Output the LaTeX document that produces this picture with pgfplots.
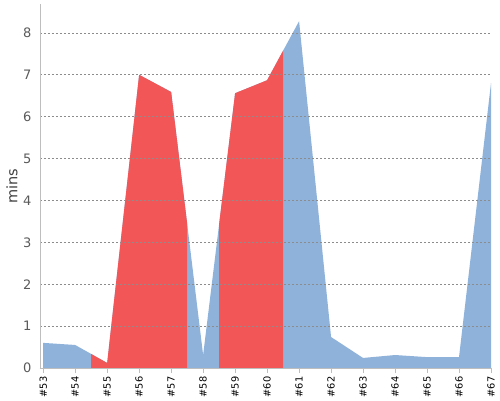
\documentclass[border=0pt]{standalone}
\usepackage{pgfplots}
\pgfplotsset{compat=1.18}
\usepackage{fontspec}
\setmainfont{DejaVu Sans}
\definecolor{areablue}{RGB}{143,178,218}
\definecolor{areared}{RGB}{242,86,86}
\definecolor{axgray}{RGB}{190,190,190}
\definecolor{gridgray}{RGB}{140,140,140}
\definecolor{ticktext}{RGB}{90,90,90}
\begin{document}
\begin{tikzpicture}
\path[use as bounding box] (-40pt,-32pt) rectangle (460pt,368pt);
\begin{axis}[
  at={(0pt,0pt)}, anchor=south west,
  scale only axis, width=451pt, height=364pt,
  xmin=52.9, xmax=67, ymin=0, ymax=8.69,
  axis x line*=bottom, axis y line*=left,
  axis line style={axgray, line width=0.8pt, -},
  xtick={53,...,67},
  xticklabels={\#53,\#54,\#55,\#56,\#57,\#58,\#59,\#60,\#61,\#62,\#63,\#64,\#65,\#66,\#67},
  x tick label style={rotate=90, anchor=east, font=\fontsize{9.8}{11}\selectfont, text=black},
  xtick style={axgray, line width=0.8pt},
  tick align=outside, major tick length=5pt,
  ytick={0,...,8},
  ytick style={draw=none},
  y tick label style={font=\fontsize{13}{14}\selectfont, text=ticktext},
  /pgf/number format/assume math mode=true,
  ymajorgrids, grid style={gridgray, line width=0.6pt, dash pattern=on 2pt off 2pt, dash phase=0pt},
  ylabel={mins},
  every axis y label/.style={at={(axis description cs:0,0.5)}, xshift=-28pt, rotate=90, anchor=center, font=\fontsize{14.5}{16}\selectfont, text=black!75},
  axis on top,
  clip=false,
]
\addplot[fill=areablue, draw=none] coordinates {
  (53,0.60) (54,0.55) (55,0.12) (56,7.00) (57,6.59) (58,0.31) (59,6.56) (60,6.87)
  (61,8.28) (62,0.74) (63,0.24) (64,0.31) (65,0.26) (66,0.26) (67,6.80)
} \closedcycle;
\addplot[fill=areared, draw=none] coordinates {
  (54.5,0.335) (55,0.12) (56,7.00) (57,6.59) (57.5,3.45)
} \closedcycle;
\addplot[fill=areared, draw=none] coordinates {
  (58.5,3.435) (59,6.56) (60,6.87) (60.5,7.575)
} \closedcycle;
\end{axis}
\end{tikzpicture}
\end{document}
